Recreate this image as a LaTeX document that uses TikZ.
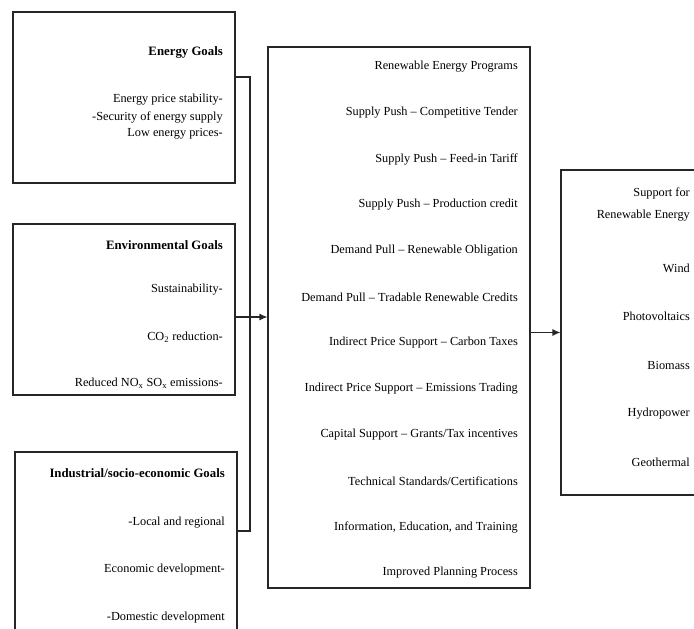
\documentclass[tikz,border=0pt]{standalone}
\usepackage{fontspec}
\setmainfont{Liberation Serif}
\usetikzlibrary{arrows.meta}

\tikzset{
    panel/.style={draw=black!85, line width=1.1pt, inner sep=0pt},
    item/.style={anchor=east, inner sep=0pt, font=\fontsize{12.3}{14}\selectfont},
    title/.style={item, font=\fontsize{12.8}{14}\selectfont\bfseries},
    link/.style={draw=black!85, line width=1.1pt},
}

\begin{document}
\begin{tikzpicture}[x=1pt, y=-1pt]
            \useasboundingbox (0,0) rectangle (694,629);
            \clip (0,0) rectangle (694,629);

            % goal boxes
            \node[panel, minimum width=222pt, minimum height=171pt] (energy) at (124,97.5) {};
            \node[panel, minimum width=222pt, minimum height=171pt] (environ) at (124,309.5) {};
            \node[panel, minimum width=222pt, minimum height=200pt] (industry) at (126,552) {};

            \node[title] (e0) at (223,52) {Energy Goals};
            \node[item] (e1) at (223,100) {Energy price stability-};
            \node[item] (e2) at (223,117) {-Security of energy supply};
            \node[item] (e3) at (223,134) {Low energy prices-};

            \node[title] (v0) at (223,245) {Environmental Goals};
            \node[item] (v1) at (223,290) {Sustainability-};
            \node[item] (v2) at (223,337) {CO\textsubscript{2} reduction-};
            \node[item] (v3) at (223,383) {Reduced NO\textsubscript{x} SO\textsubscript{x} emissions-};

            \node[title] (i0) at (225,473) {Industrial/socio-economic Goals};
            \node[item] (i1) at (225,523) {-Local and regional};
            \node[item] (i2) at (225,570) {Economic development-};
            \node[item] (i3) at (225,618) {-Domestic development};

            % programs
            \node[panel, minimum width=262pt, minimum height=541pt] (programs) at (399,317.5) {};
            \foreach \txt [count=\i from 0] in {Renewable Energy Programs,
                    Supply Push -- Competitive Tender,
                    Supply Push -- Feed-in Tariff,
                    Supply Push -- Production credit,
                    Demand Pull -- Renewable Obligation,
                    Demand Pull -- Tradable Renewable Credits,
                    Indirect Price Support -- Carbon Taxes,
                    Indirect Price Support -- Emissions Trading,
                    Capital Support -- Grants/Tax incentives,
                    Technical Standards/Certifications,
                    {Information, Education, and Training},
                    Improved Planning Process}
                \node[item] (p\i) at (518,67+46*\i) {\txt};

            % support
            \node[panel, minimum width=140pt, minimum height=325pt] (support) at (631,332.5) {};
            \node[item] (s0) at (690,193) {Support for};
            \node[item] (s1) at (690,216) {Renewable Energy};
            \foreach \txt [count=\i from 0] in {Wind, Photovoltaics, Biomass, Hydropower, Geothermal}
                \node[item] (s\i) at (690,268+48.5*\i) {\txt};

            % connectors
            \coordinate (jtop) at (250,77);
            \coordinate (jbot) at (250,531);
            \coordinate (jmid) at (250,317);
            \path[link] (energy.east |- jtop) -- (jtop) -- (jbot) -- (industry.east |- jbot);
            \path[link, -{Latex[length=8pt,width=7pt]}] (environ.east |- jmid) -- (programs.west |- jmid);
            \path[link, -{Latex[length=8pt,width=7pt]}] (programs.east |- support.west) -- (support.west);
        \end{tikzpicture}
\end{document}
